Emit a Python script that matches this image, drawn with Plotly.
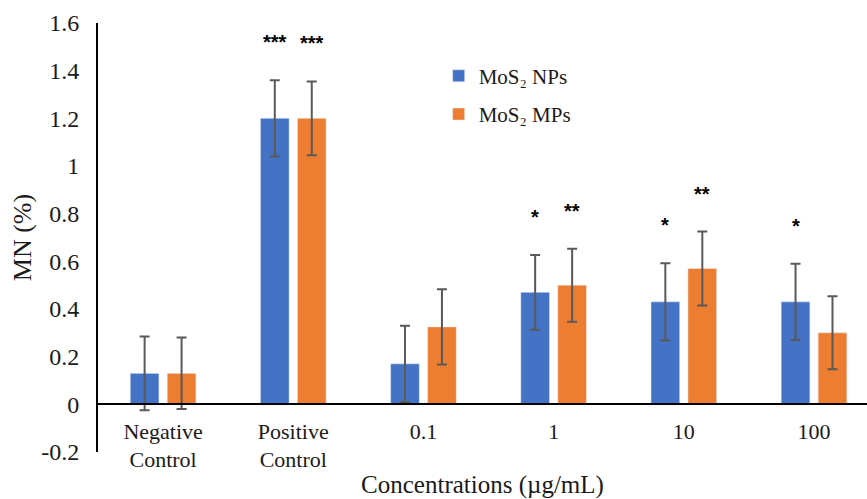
import plotly.graph_objects as go

categories = ["Negative<br>Control", "Positive<br>Control", "0.1", "1", "10", "100"]
nps_values = [0.13, 1.20, 0.17, 0.47, 0.43, 0.43]
nps_errors = [0.155, 0.16, 0.16, 0.157, 0.162, 0.16]
mps_values = [0.13, 1.20, 0.325, 0.50, 0.57, 0.30]
mps_errors = [0.15, 0.155, 0.158, 0.153, 0.155, 0.153]
nps_stars = ["", "***", "", "*", "*", "*"]
mps_stars = ["", "***", "", "**", "**", ""]
ytick_vals = [-0.2, 0, 0.2, 0.4, 0.6, 0.8, 1.0, 1.2, 1.4, 1.6]
ytick_text = ["-0.2", "0", "0.2", "0.4", "0.6", "0.8", "1", "1.2", "1.4", "1.6"]

W, H = 867, 499
ML, MR, MT, MB = 98, 0, 23, 47
XR = [-0.5, 5.407]
YR = [-0.2, 1.6]
BARGAP = 0.432
GROUPGAP = 0.224

serif = "Liberation Serif, Times New Roman, serif"
blue = "#4472C4"
orange = "#ED7D31"
errc = "#595959"
txt = "#1a1a1a"

fig = go.Figure()
fig.add_trace(go.Bar(
    x=categories, y=nps_values, name="MoS\u2082 NPs", marker_color=blue,
    legendgroup="a",
    error_y=dict(type="data", array=nps_errors, visible=True, color=errc, thickness=2, width=5),
))
fig.add_trace(go.Bar(
    x=categories, y=mps_values, name="MoS\u2082 MPs", marker_color=orange,
    legendgroup="b",
    error_y=dict(type="data", array=mps_errors, visible=True, color=errc, thickness=2, width=5),
))

# significance markers above error bars (x given as category index)
px_per_cat = (W - ML - MR) / (XR[1] - XR[0])
slot = px_per_cat * (1 - BARGAP) / 2
for i in range(len(categories)):
    for stars, vals, errs, sign in ((nps_stars, nps_values, nps_errors, -1),
                                    (mps_stars, mps_values, mps_errors, 1)):
        if stars[i]:
            fig.add_annotation(
                x=i, y=vals[i] + errs[i], text="<b>" + stars[i] + "</b>", showarrow=False,
                xref="x", yref="y",
                xshift=sign * slot / 2, yshift=38, yanchor="middle",
                font=dict(family="Liberation Sans, Arial, sans-serif", size=20, color="black"),
            )

zero_pos = (0 - YR[0]) / (YR[1] - YR[0])

fig.update_layout(
    width=W, height=H,
    margin=dict(l=ML, r=MR, t=MT, b=MB),
    paper_bgcolor="white", plot_bgcolor="white",
    barmode="group", bargap=BARGAP, bargroupgap=GROUPGAP,
    font=dict(family=serif, size=22, color=txt),
    showlegend=True,
    legend=dict(x=0.443, y=0.924, xanchor="left", yanchor="top",
                font=dict(family=serif, size=21, color=txt),
                bgcolor="rgba(0,0,0,0)", tracegroupgap=8),
    xaxis=dict(
        range=XR, anchor="free", position=zero_pos, automargin=False,
        showline=True, linecolor="black", linewidth=2,
        showgrid=False, zeroline=False, ticks="",
        tickfont=dict(family=serif, size=22, color=txt),
        ticklabelstandoff=7,
        title=dict(text="Concentrations (\u00b5g/mL)",
                   font=dict(family=serif, size=25, color=txt), standoff=6),
    ),
    yaxis=dict(
        range=YR, tickvals=ytick_vals, ticktext=ytick_text, automargin=False,
        showline=True, linecolor="black", linewidth=2,
        showgrid=False, zeroline=False, ticks="",
        ticklabelstandoff=12,
        tickfont=dict(family=serif, size=24, color=txt),
        title=dict(text="MN (%)", font=dict(family=serif, size=26, color=txt), standoff=2),
    ),
)

fig.write_html("out.html", config={"displayModeBar": False},
               post_script="document.body.style.margin='0';document.body.style.overflow='hidden';")
